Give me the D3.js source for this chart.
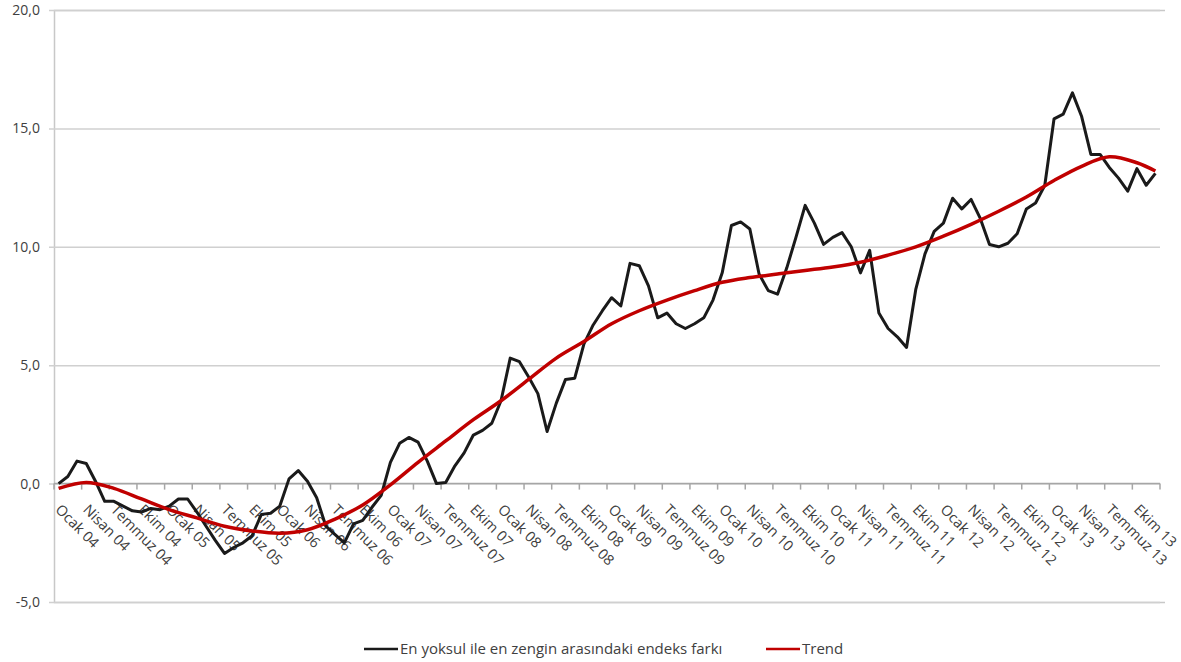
<!DOCTYPE html>
<html>
<head>
<meta charset="utf-8">
<style>
  body { margin: 0; background: #fff; }
  text { font-family: "Open Sans", "Noto Sans", sans-serif; fill: #404040; }
</style>
</head>
<body>
<script src="https://d3js.org/d3.v7.min.js"></script>
<script>
// aylik endeks farki, Ocak 2004 - Aralik 2013
const FARK = [
  0.0, 0.3, 0.95, 0.85, 0.1, -0.75, -0.75, -0.95, -1.15, -1.2, -1.05, -1.1,
  -0.95, -0.65, -0.65, -1.2, -1.8, -2.4, -2.95, -2.7, -2.5, -2.2, -1.3, -1.25,
  -0.95, 0.2, 0.55, 0.1, -0.6, -1.8, -2.15, -2.5, -1.7, -1.55, -1.0, -0.5,
  0.9, 1.7, 1.95, 1.75, 0.95, 0.0, 0.05, 0.75, 1.3, 2.05, 2.25, 2.55,
  3.5, 5.3, 5.15, 4.5, 3.8, 2.2, 3.4, 4.4, 4.45, 5.9, 6.7, 7.3,
  7.85, 7.5, 9.3, 9.2, 8.35, 7.0, 7.2, 6.75, 6.55, 6.75, 7.0, 7.75,
  8.9, 10.9, 11.05, 10.75, 8.85, 8.15, 8.0, 9.1, 10.4, 11.75, 11.0, 10.1,
  10.4, 10.6, 10.0, 8.9, 9.85, 7.2, 6.55, 6.2, 5.75, 8.2, 9.7, 10.65,
  11.0, 12.05, 11.6, 12.0, 11.2, 10.1, 10.0, 10.15, 10.55, 11.6, 11.85, 12.6,
  15.4, 15.6, 16.5, 15.5, 13.9, 13.9, 13.35, 12.9, 12.35, 13.3, 12.6, 13.1
];

// trend cizgisi, uc ayda bir okunan degerler
const TREND_IDX = [0, 3, 6, 9, 12, 15, 18, 21, 24, 27, 30, 33, 36, 39, 42, 45, 48, 51, 54, 57,
  60, 63, 66, 69, 72, 75, 78, 81, 84, 87, 90, 93, 96, 99, 102, 105, 108, 111, 114, 117, 119];
const TREND = [-0.2, 0.05, -0.2, -0.65, -1.1, -1.45, -1.8, -2.0, -2.1, -1.95, -1.5, -0.9, -0.05, 0.9,
  1.8, 2.7, 3.5, 4.4, 5.3, 6.0, 6.75, 7.3, 7.75, 8.15, 8.5, 8.7, 8.85, 9.0, 9.15, 9.35, 9.65,
  10.0, 10.45, 10.95, 11.5, 12.1, 12.8, 13.4, 13.8, 13.55, 13.2];

const TICK_LABELS = [
  'Ocak 04', 'Nisan 04', 'Temmuz 04', 'Ekim 04', 'Ocak 05', 'Nisan 05', 'Temmuz 05', 'Ekim 05',
  'Ocak 06', 'Nisan 06', 'Temmuz 06', 'Ekim 06', 'Ocak 07', 'Nisan 07', 'Temmuz 07', 'Ekim 07',
  'Ocak 08', 'Nisan 08', 'Temmuz 08', 'Ekim 08', 'Ocak 09', 'Nisan 09', 'Temmuz 09', 'Ekim 09',
  'Ocak 10', 'Nisan 10', 'Temmuz 10', 'Ekim 10', 'Ocak 11', 'Nisan 11', 'Temmuz 11', 'Ekim 11',
  'Ocak 12', 'Nisan 12', 'Temmuz 12', 'Ekim 12', 'Ocak 13', 'Nisan 13', 'Temmuz 13', 'Ekim 13'
];
const Y_TICKS = [-5, 0, 5, 10, 15, 20];

const WIDTH = 1181
const HEIGHT = 662
const LEFT = 54
const RIGHT = 1160
const TOP = 10
const BOTTOM = 602

const svg = d3.select('body').append('svg').attr('width', WIDTH).attr('height', HEIGHT);

// kategoriler arasi bant olcegi
const x = d3.scaleBand()
  .domain(d3.range(FARK.length))
  .range([LEFT, RIGHT])
  .padding(0);
const cx = i => x(i) + x.bandwidth() / 2;

const y = d3.scaleLinear()
  .domain([-5, 20])
  .range([BOTTOM, TOP]);

// yatay izgara + y ekseni
const axisY = d3.axisLeft(y)
  .tickValues(Y_TICKS)
  .tickSize(-(RIGHT - LEFT + 5))
  .tickFormat(d => d.toFixed(1).replace('.', ','));

const gy = svg.append('g')
  .attr('transform', `translate(${LEFT},0)`)
  .call(axisY);
gy.select('.domain').attr('stroke', '#c8c8c8').attr('stroke-width', 1.5);
gy.selectAll('.tick line')
  .attr('x1', -5)
  .attr('x2', RIGHT - LEFT)
  .attr('stroke', '#d0d0d0').attr('stroke-width', 1.5);
gy.selectAll('.tick text')
  .attr('x', -14)
  .attr('font-size', 14)
  .attr('fill', '#404040')
  .style('font-family', '"Open Sans", sans-serif');

// x ekseni sifir cizgisinde
const zero = y(0);
const xg = svg.append('g');
xg.append('line')
  .attr('x1', LEFT).attr('x2', RIGHT)
  .attr('y1', zero).attr('y2', zero)
  .attr('stroke', '#a6a6a6').attr('stroke-width', 1.5);

const tickIdx = d3.range(0, FARK.length + 1, 3);
xg.selectAll('.xt')
  .data(tickIdx)
  .enter()
  .append('line')
  .attr('x1', d => d < FARK.length ? x(d) : RIGHT)
  .attr('x2', d => d < FARK.length ? x(d) : RIGHT)
  .attr('y1', zero).attr('y2', zero + 6)
  .attr('stroke', '#a6a6a6').attr('stroke-width', 1.5);

xg.selectAll('.xl')
  .data(TICK_LABELS)
  .enter()
  .append('text')
  .attr('transform', (d, i) => `translate(${cx(i * 3) - 4},${zero + 27}) rotate(45)`)
  .attr('font-size', 14.5)
  .attr('text-anchor', 'start')
  .text(d => d);

// seriler
const line = d3.line()
  .x((d, i) => cx(i))
  .y(d => y(d));

svg.append('path')
  .datum(FARK)
  .attr('d', line)
  .attr('fill', 'none')
  .attr('stroke', '#1a1a1a')
  .attr('stroke-width', 3)
  .attr('stroke-linejoin', 'round');

const trendLine = d3.line()
  .x((d, i) => cx(TREND_IDX[i]))
  .y(d => y(d))
  .curve(d3.curveCatmullRom);

svg.append('path')
  .datum(TREND)
  .attr('d', trendLine)
  .attr('fill', 'none')
  .attr('stroke', '#c00000')
  .attr('stroke-width', 3.5);

// lejant
const legend = svg.append('g').attr('transform', 'translate(0,649)');
const items = [
  { label: 'En yoksul ile en zengin arasındaki endeks farkı', color: '#1a1a1a', x: 364 },
  { label: 'Trend', color: '#c00000', x: 766 }
];
items.forEach(it => {
  legend.append('line')
    .attr('x1', it.x).attr('x2', it.x + 34)
    .attr('y1', 0).attr('y2', 0)
    .attr('stroke', it.color).attr('stroke-width', 2.5);
  legend.append('text')
    .attr('x', it.x + 36).attr('y', 5)
    .attr('font-size', 15)
    .text(it.label);
});
</script>
</body>
</html>
